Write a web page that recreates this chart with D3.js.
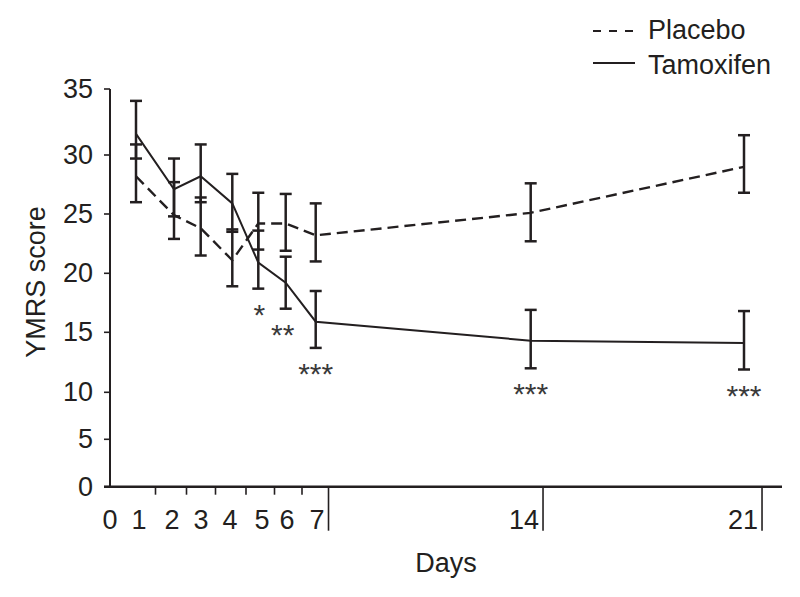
<!DOCTYPE html>
<html><head><meta charset="utf-8">
<script src="https://cdn.jsdelivr.net/npm/d3@7"></script>
<style>
html,body{margin:0;padding:0;background:#fff;}
svg{display:block;}
text{font-family:"Liberation Sans",Arial,Helvetica,sans-serif;fill:#231f20;}
</style></head>
<body>
<svg id="c" width="800" height="597"></svg>
<script>
// ---- data ----
const days = [1, 2, 3, 4, 5, 6, 7, 14, 21];
const tamoxMean = [31.6, 27.1, 28.2, 25.9, 20.9, 19.2, 15.9, 14.3, 14.1];
const tamoxHi   = [34.1, 29.7, 30.8, 28.4, 23.6, 21.4, 18.5, 16.9, 16.8];
const tamoxLo   = [29.7, 24.8, 26.0, 23.5, 18.7, 17.0, 13.7, 12.0, 11.9];
const placeboMean = [28.2, 24.9, 23.8, 21.1, 24.2, 24.2, 23.2, 25.1, 29.0];
const placeboHi   = [30.8, 27.7, 26.4, 23.7, 26.8, 26.7, 25.9, 27.6, 31.5];
const placeboLo   = [26.0, 22.9, 21.5, 18.9, 22.0, 21.9, 21.0, 22.7, 26.8];
const stars = [null, null, null, null, "*", "**", "***", "***", "***"];
const yTicks = [0, 5, 10, 15, 20, 25, 30, 35];
const xTickLabels = [0, 1, 2, 3, 4, 5, 6, 7, 14, 21];
const minorTicks = [1.5, 2.5, 3.5, 4.5, 5.5, 6.5];
const longTickDays = [7, 14, 21];
const seriesNames = ["Placebo", "Tamoxifen"];

const ink = "#231f20";
const svg = d3.select("#c");

// piecewise scales (the original figure's axes are not uniformly spaced)
const y = d3.scaleLinear()
  .domain([0, 5, 10, 15, 20, 25, 30, 35])
  .range([486.7, 439.3, 392.3, 332.3, 273.3, 214, 155, 89]);
const x = d3.scaleLinear()
  .domain([0, 1, 2, 3, 4, 5, 6, 7, 14, 21])
  .range([110, 136, 174, 200.7, 232.3, 258.3, 285.7, 315.7, 530.7, 744]);
const xl = d3.scaleLinear()
  .domain([0, 1, 2, 3, 4, 5, 6, 7, 14, 21])
  .range([110, 139, 172, 201, 230, 262, 287, 317, 524, 743]);

const axisY0 = y(0);

// y axis
svg.append("line").attr("x1", 110).attr("x2", 110)
  .attr("y1", y(35)).attr("y2", axisY0 + 1)
  .attr("stroke", ink).attr("stroke-width", 2);
svg.selectAll(".ytick").data(yTicks).enter().append("line")
  .attr("x1", 104).attr("x2", 110)
  .attr("y1", d => y(d)).attr("y2", d => y(d))
  .attr("stroke", ink).attr("stroke-width", 1.6);
svg.selectAll(".ylab").data(yTicks).enter().append("text")
  .attr("x", 93).attr("y", d => y(d) + 9)
  .attr("text-anchor", "end").attr("font-size", 27)
  .text(d => d);

// x axis
svg.append("line").attr("x1", 104).attr("x2", 782)
  .attr("y1", axisY0).attr("y2", axisY0)
  .attr("stroke", ink).attr("stroke-width", 2.4);
svg.selectAll(".xmin").data(minorTicks).enter().append("line")
  .attr("x1", d => xl(d)).attr("x2", d => xl(d))
  .attr("y1", axisY0).attr("y2", axisY0 + 8)
  .attr("stroke", ink).attr("stroke-width", 1.6);
const xLabs = svg.selectAll(".xlab").data(xTickLabels).enter().append("text")
  .attr("x", d => xl(d)).attr("y", 529)
  .attr("text-anchor", "middle").attr("font-size", 27)
  .text(d => d);
xLabs.filter(d => longTickDays.includes(d)).each(function () {
  const b = this.getBBox();
  const lx = b.x + b.width + 4;
  svg.append("line").attr("x1", lx).attr("x2", lx)
    .attr("y1", axisY0).attr("y2", axisY0 + 44)
    .attr("stroke", ink).attr("stroke-width", 1.6);
});

// axis titles
svg.append("text").attr("x", 446).attr("y", 572)
  .attr("text-anchor", "middle").attr("font-size", 27).text("Days");
svg.append("text").attr("transform", "translate(45,282) rotate(-90)")
  .attr("text-anchor", "middle").attr("font-size", 27).text("YMRS score");

// error bars
function errorBars(mean, hi, lo, cls) {
  const g = svg.append("g").attr("class", cls);
  const d = days.map((dd, i) => ({ x: x(dd), hi: y(hi[i]), lo: y(lo[i]) }));
  g.selectAll(".v").data(d).enter().append("line")
    .attr("x1", e => e.x).attr("x2", e => e.x)
    .attr("y1", e => e.hi).attr("y2", e => e.lo)
    .attr("stroke", ink).attr("stroke-width", 2.5);
  ["hi", "lo"].forEach(k => {
    g.selectAll(".c" + k).data(d).enter().append("line")
      .attr("x1", e => e.x - 6).attr("x2", e => e.x + 6)
      .attr("y1", e => e[k]).attr("y2", e => e[k])
      .attr("stroke", ink).attr("stroke-width", 2.5);
  });
}
errorBars(placeboMean, placeboHi, placeboLo, "pe");
errorBars(tamoxMean, tamoxHi, tamoxLo, "te");

// lines
const line = d3.line().x(d => x(d[0])).y(d => y(d[1]));
svg.append("path")
  .attr("d", line(days.map((d, i) => [d, placeboMean[i]])))
  .attr("fill", "none").attr("stroke", ink).attr("stroke-width", 2.4)
  .attr("stroke-dasharray", "11,6");
svg.append("path")
  .attr("d", line(days.map((d, i) => [d, tamoxMean[i]])))
  .attr("fill", "none").attr("stroke", ink).attr("stroke-width", 2);

// significance stars
svg.selectAll(".star").data(days.map((d, i) => ({ d, s: stars[i], lo: tamoxLo[i] })).filter(e => e.s))
  .enter().append("text")
  .attr("x", e => x(e.d) + (e.s.length === 1 ? 1 : e.s.length === 2 ? -3 : 0))
  .attr("y", e => y(e.lo) + 36)
  .attr("text-anchor", "middle")
  .attr("font-family", "'Liberation Serif','Times New Roman',serif")
  .attr("font-size", 30)
  .style("fill", "#3a3a3a")
  .text(e => e.s);

// legend
const lg = svg.append("g");
lg.append("line").attr("x1", 593).attr("x2", 635).attr("y1", 31).attr("y2", 31)
  .attr("stroke", ink).attr("stroke-width", 2).attr("stroke-dasharray", "8,8");
lg.append("line").attr("x1", 593).attr("x2", 635).attr("y1", 63).attr("y2", 63)
  .attr("stroke", ink).attr("stroke-width", 2);
lg.selectAll(".lt").data(seriesNames).enter().append("text")
  .attr("x", 648).attr("y", (d, i) => 39 + i * 35)
  .attr("font-size", 27).text(d => d);
</script>
</body></html>
